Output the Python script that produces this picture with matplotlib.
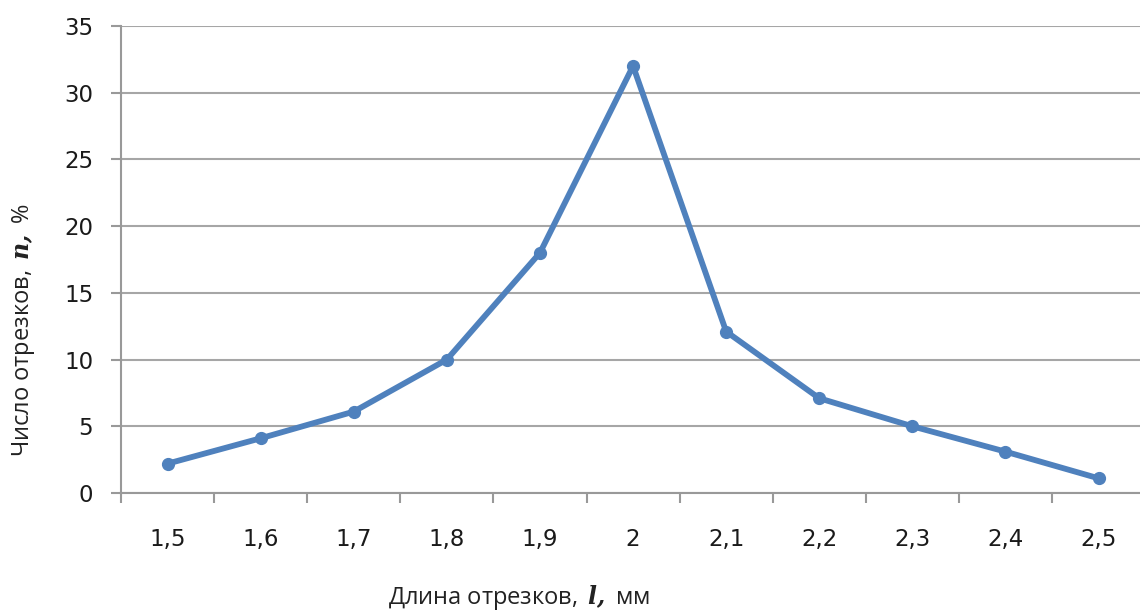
import matplotlib
matplotlib.use("Agg")
import matplotlib.pyplot as plt

# длина отрезков, мм
lengths = ["1,5", "1,6", "1,7", "1,8", "1,9", "2", "2,1", "2,2", "2,3", "2,4", "2,5"]
# число отрезков, %
counts = [2.2, 4.1, 6.1, 10.0, 18.0, 32.0, 12.1, 7.1, 5.0, 3.1, 1.1]
y_ticks = [0, 5, 10, 15, 20, 25, 30, 35]

plt.rcParams['mathtext.fontset'] = 'dejavuserif'

fig = plt.figure(figsize=(11.4, 6.11), dpi=100)
ax = fig.add_axes([121 / 1140, 1 - 493 / 611, 1 - 121 / 1140, (493 - 26) / 611])

x = list(range(len(lengths)))
ax.plot(x, counts, color='#4F81BD', lw=4.2, marker='o', ms=8.5,
        solid_joinstyle='round', zorder=3, clip_on=False)

ax.set_xlim(-0.5, 10.445)
ax.set_ylim(0, 35)
ax.set_yticks(y_ticks)
ax.set_yticklabels([str(v) for v in y_ticks])
ax.set_xticks(x)
ax.set_xticklabels(lengths)
# tick marks sit between categories, like Excel
ax.set_xticks([i - 0.5 for i in range(len(lengths))], minor=True)
ax.tick_params(axis='x', which='major', length=0, pad=25)
ax.tick_params(axis='x', which='minor', length=7, width=1.5, color='#999999')
ax.tick_params(axis='y', length=7, width=1.5, color='#999999', pad=13)
for lab in ax.get_xticklabels() + ax.get_yticklabels():
    lab.set_fontsize(16.5)
    lab.set_color('#1a1a1a')

ax.grid(axis='y', color='#a6a6a6', lw=1.5)
ax.set_axisbelow(True)
for s in ['top', 'right']:
    ax.spines[s].set_visible(False)
for s in ['left', 'bottom']:
    ax.spines[s].set_color('#999999')
    ax.spines[s].set_linewidth(1.5)

fig.text(519 / 1140, 1 - 597 / 611, r'Длина отрезков, $\,\mathbfit{l,}$ мм',
         ha='center', va='center', fontsize=17, family='Open Sans', color='#222222')
fig.text(24 / 1140, 1 - 330 / 611, r'Число отрезков, $\,\mathbfit{n,}$ %',
         ha='center', va='center', rotation=90, fontsize=17, family='Open Sans',
         color='#222222')

fig.savefig('out.png', dpi=100)
